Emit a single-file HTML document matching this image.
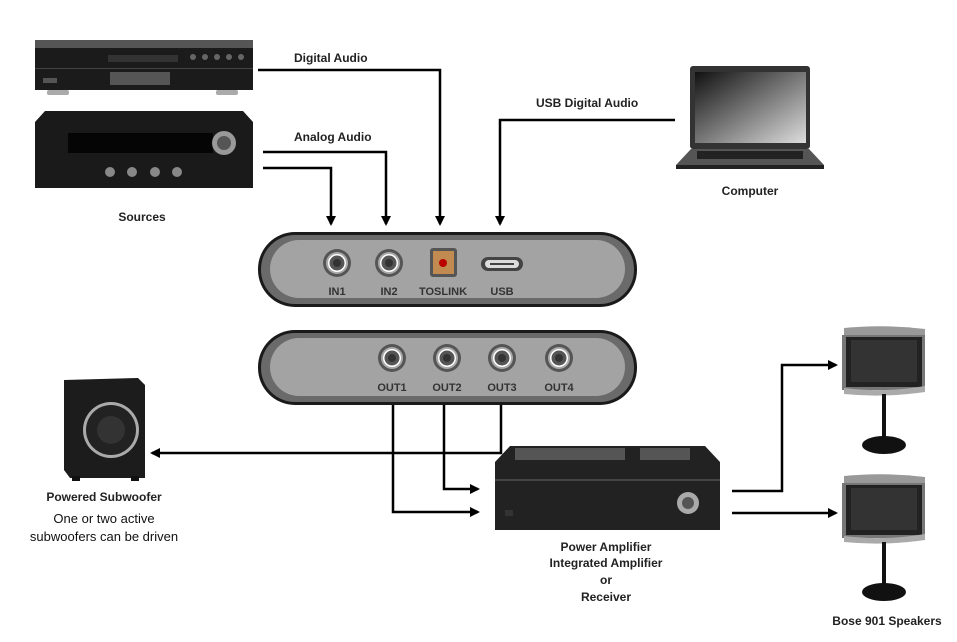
<!DOCTYPE html>
<html><head><meta charset="utf-8"><style>
html,body{margin:0;padding:0;background:#fff;}
svg{display:block;font-family:"Liberation Sans",sans-serif;}
.l{font-size:12px;font-weight:bold;fill:#222;}
.j{font-size:11px;font-weight:bold;fill:#333;}
</style></head><body>
<svg width="957" height="642" viewBox="0 0 957 642" xmlns="http://www.w3.org/2000/svg">
<defs>
<marker id="a" markerWidth="10" markerHeight="10" refX="8" refY="5" orient="auto" markerUnits="userSpaceOnUse"><path d="M0,0 L10,5 L0,10 z" fill="#000"/></marker>
<linearGradient id="scr" x1="0" y1="0" x2="1" y2="1"><stop offset="0" stop-color="#111"/><stop offset="1" stop-color="#ddd"/></linearGradient>
<g id="jack"><circle r="14" fill="#555"/><circle r="11" fill="#aaa"/><circle r="9" fill="#fff"/><circle r="7.5" fill="#555"/><circle r="4" fill="#333"/></g>
<g id="spk"><path d="M2,2 Q42,-2 83,3 L83,10 L2,10 z" fill="#999"/><rect x="0" y="9" width="83" height="55" fill="#777"/><rect x="4" y="11" width="76" height="50" fill="#222"/><rect x="9" y="14" width="66" height="42" fill="#333"/><path d="M2,62 Q42,67 83,60 L83,66 Q42,72 2,68z" fill="#aaa"/></g>
</defs>
<!-- CD player -->
<rect x="35" y="40" width="218" height="8" fill="#555"/>
<rect x="35" y="48" width="218" height="42" fill="#1b1b1b"/>
<rect x="35" y="68" width="218" height="1" fill="#444"/>
<rect x="108" y="55" width="70" height="7" fill="#333"/>
<rect x="110" y="72" width="60" height="13" fill="#555"/>
<rect x="43" y="78" width="14" height="5" fill="#555"/>
<g fill="#666"><circle cx="193" cy="57" r="3"/><circle cx="205" cy="57" r="3"/><circle cx="217" cy="57" r="3"/><circle cx="229" cy="57" r="3"/><circle cx="241" cy="57" r="3"/></g>
<rect x="47" y="90" width="22" height="5" fill="#aaa" rx="2"/><rect x="216" y="90" width="22" height="5" fill="#aaa" rx="2"/>
<!-- Receiver -->
<path d="M45,111 L243,111 L253,122 L253,188 L35,188 L35,122 z" fill="#1a1a1a"/>
<rect x="68" y="133" width="145" height="20" fill="#050505"/>
<circle cx="224" cy="143" r="12" fill="#999"/><circle cx="224" cy="143" r="7" fill="#555"/>
<g fill="#888"><circle cx="110" cy="172" r="5"/><circle cx="132" cy="172" r="5"/><circle cx="155" cy="172" r="5"/><circle cx="177" cy="172" r="5"/></g>
<text x="142" y="221" text-anchor="middle" class="l">Sources</text>
<!-- Laptop -->
<rect x="690" y="66" width="120" height="83" rx="3" fill="#333"/>
<rect x="695" y="72" width="111" height="71" fill="url(#scr)"/>
<path d="M691,149 L809,149 L824,165 L676,165 z" fill="#555"/>
<rect x="697" y="151" width="106" height="8" fill="#222"/>
<rect x="676" y="165" width="148" height="4" fill="#222"/>
<text x="750" y="195" text-anchor="middle" class="l">Computer</text>
<!-- Connectors top -->
<g stroke="#000" stroke-width="2.5" fill="none">
<polyline points="258,70 440,70 440,224" marker-end="url(#a)"/>
<polyline points="263,152 386,152 386,224" marker-end="url(#a)"/>
<polyline points="263,168 331,168 331,224" marker-end="url(#a)"/>
<polyline points="675,120 500,120 500,224" marker-end="url(#a)"/>
</g>
<text x="294" y="62" class="l">Digital Audio</text>
<text x="294" y="141" class="l">Analog Audio</text>
<text x="536" y="107" class="l">USB Digital Audio</text>
<!-- Top box -->
<rect x="258" y="232" width="379" height="75" rx="37" fill="#1a1a1a"/>
<rect x="261" y="235" width="373" height="69" rx="34" fill="#6a6a6a"/>
<rect x="270" y="240" width="355" height="58" rx="29" fill="#a3a3a3"/>
<use href="#jack" x="337" y="263"/><use href="#jack" x="389" y="263"/>
<rect x="430" y="248" width="27" height="29" rx="3" fill="#555"/>
<rect x="433" y="251" width="21" height="23" fill="#c08a50"/>
<circle cx="443" cy="263" r="4" fill="#b00"/>
<rect x="481" y="257" width="42" height="14" rx="7" fill="#444"/>
<rect x="485" y="260" width="34" height="8" rx="4" fill="#ddd"/>
<rect x="490" y="263" width="24" height="2" fill="#444"/>
<text x="337" y="295" text-anchor="middle" class="j">IN1</text>
<text x="389" y="295" text-anchor="middle" class="j">IN2</text>
<text x="443" y="295" text-anchor="middle" class="j">TOSLINK</text>
<text x="502" y="295" text-anchor="middle" class="j">USB</text>
<!-- Bottom box -->
<rect x="258" y="330" width="379" height="75" rx="37" fill="#1a1a1a"/>
<rect x="261" y="333" width="373" height="69" rx="34" fill="#6a6a6a"/>
<rect x="270" y="338" width="355" height="58" rx="29" fill="#a3a3a3"/>
<use href="#jack" x="392" y="358"/><use href="#jack" x="447" y="358"/><use href="#jack" x="502" y="358"/><use href="#jack" x="559" y="358"/>
<text x="392" y="391" text-anchor="middle" class="j">OUT1</text>
<text x="447" y="391" text-anchor="middle" class="j">OUT2</text>
<text x="502" y="391" text-anchor="middle" class="j">OUT3</text>
<text x="559" y="391" text-anchor="middle" class="j">OUT4</text>
<!-- bottom connectors -->
<g stroke="#000" stroke-width="2.5" fill="none">
<polyline points="393,405 393,512 478,512" marker-end="url(#a)"/>
<polyline points="444,405 444,489 478,489" marker-end="url(#a)"/>
<polyline points="501,405 501,453 152,453" marker-end="url(#a)"/>
<polyline points="732,491 782,491 782,365 836,365" marker-end="url(#a)"/>
<polyline points="732,513 836,513" marker-end="url(#a)"/>
</g>
<!-- Subwoofer -->
<path d="M64,380 L138,378 L145,385 L145,478 L70,478 L64,470 z" fill="#1c1c1c"/>
<circle cx="111" cy="430" r="28" fill="#aaa"/><circle cx="111" cy="430" r="25" fill="#222"/><circle cx="111" cy="430" r="14" fill="#333"/>
<rect x="72" y="476" width="8" height="5" fill="#111"/><rect x="131" y="476" width="8" height="5" fill="#111"/>
<text x="104" y="501" text-anchor="middle" class="l">Powered Subwoofer</text>
<text x="104" y="523" text-anchor="middle" style="font-size:13px;fill:#111">One or two active</text>
<text x="104" y="541" text-anchor="middle" style="font-size:13px;fill:#111">subwoofers can be driven</text>
<!-- Amp -->
<path d="M510,446 L705,446 L720,462 L720,530 L495,530 L495,462 z" fill="#222"/>
<g fill="#555"><rect x="515" y="448" width="45" height="12"/><rect x="560" y="448" width="65" height="12"/><rect x="640" y="448" width="50" height="12"/></g>
<rect x="495" y="479" width="225" height="2" fill="#444"/>
<circle cx="688" cy="503" r="11" fill="#aaa"/><circle cx="688" cy="503" r="6" fill="#555"/>
<rect x="505" y="510" width="8" height="6" fill="#333"/>
<text x="606" y="551" text-anchor="middle" class="l">Power Amplifier</text>
<text x="606" y="567" text-anchor="middle" class="l">Integrated Amplifier</text>
<text x="606" y="584" text-anchor="middle" class="l">or</text>
<text x="606" y="601" text-anchor="middle" class="l">Receiver</text>
<!-- Speakers -->
<use href="#spk" x="842" y="326"/>
<rect x="882" y="394" width="4" height="46" fill="#111"/><ellipse cx="884" cy="445" rx="22" ry="9" fill="#111"/>
<use href="#spk" x="842" y="474"/>
<rect x="882" y="542" width="4" height="46" fill="#111"/><ellipse cx="884" cy="592" rx="22" ry="9" fill="#111"/>
<text x="887" y="625" text-anchor="middle" class="l">Bose 901 Speakers</text>
</svg>
</body></html>
